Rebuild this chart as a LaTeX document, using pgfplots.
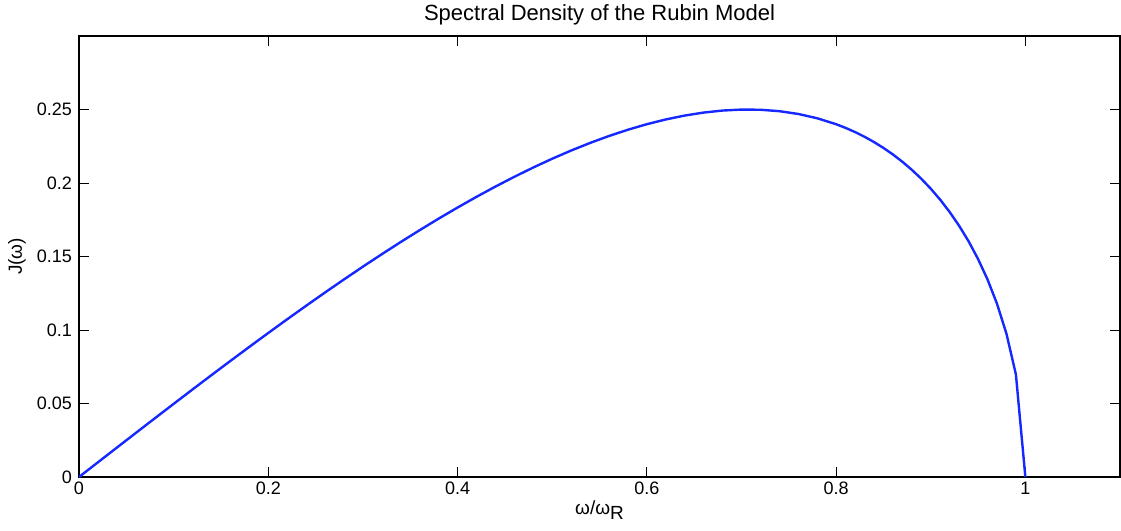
\documentclass[border=0pt]{standalone}
\usepackage{fontspec}
\setmainfont{Liberation Sans}
\usepackage{pgfplots}
\pgfplotsset{compat=1.18}
\begin{document}
\begin{tikzpicture}
\useasboundingbox (-39.5pt,-27pt) rectangle (521pt,238.5pt);
\begin{axis}[
  at={(0,0)}, anchor=south west,
  scale only axis, width=520.5pt, height=220.5pt,
  xmin=0, xmax=1.1, ymin=0, ymax=0.3,
  xtick={0,0.2,0.4,0.6,0.8,1},
  xticklabels={0,0.2,0.4,0.6,0.8,1},
  ytick={0,0.05,0.1,0.15,0.2,0.25},
  yticklabels={0,0.05,0.1,0.15,0.2,0.25},
  tick align=inside, major tick length=5pt,
  tick style={black, line width=0.4pt},
  axis line style={black, line width=0.6pt},
  font=\fontsize{9}{10}\selectfont,
  tick label style={font=\fontsize{9}{10}\selectfont},
  /pgf/number format/assume math mode=true,
  xticklabel style={yshift=1pt},
  title={Spectral Density of the Rubin Model},
  title style={font=\fontsize{11}{12}\selectfont, yshift=-4pt},
  xlabel={ω/ω\raisebox{-0.55ex}{R}},
  xlabel style={font=\fontsize{9.5}{10}\selectfont, yshift=4pt},
  ylabel={J(ω)},
  ylabel style={font=\fontsize{9.5}{10}\selectfont, at={(axis description cs:-0.0596,0.5)}, anchor=center},
]
\addplot[color={rgb,255:red,20;green,40;blue,255}, line width=1.2pt] coordinates {
(0,0) (0.02,0.009998) (0.04,0.019984) (0.06,0.029946) (0.08,0.039872)
(0.10,0.049749) (0.12,0.059566) (0.14,0.069311) (0.16,0.078969) (0.18,0.088530)
(0.20,0.097980) (0.22,0.107305) (0.24,0.116493) (0.26,0.125529) (0.28,0.134400)
(0.30,0.143091) (0.32,0.151587) (0.34,0.159872) (0.36,0.167931) (0.38,0.175747)
(0.40,0.183303) (0.42,0.190580) (0.44,0.197560) (0.46,0.204221) (0.48,0.210544)
(0.50,0.216506) (0.52,0.222083) (0.54,0.227250) (0.56,0.231978) (0.58,0.236239)
(0.60,0.240000) (0.62,0.243227) (0.64,0.245880) (0.66,0.247918) (0.68,0.249292)
(0.70,0.249950) (0.72,0.249831) (0.74,0.248865) (0.76,0.246971) (0.78,0.244054)
(0.80,0.240000) (0.81,0.237504) (0.82,0.234669) (0.83,0.231472) (0.84,0.227886)
(0.85,0.223883) (0.86,0.219426) (0.87,0.214478) (0.88,0.208989) (0.89,0.202903)
(0.90,0.196150) (0.91,0.188647) (0.92,0.180282) (0.93,0.170915) (0.94,0.160352)
(0.95,0.148319) (0.96,0.134400) (0.97,0.117906) (0.98,0.097509) (0.99,0.069828)
(1.00,0)
};
\end{axis}
\end{tikzpicture}
\end{document}
